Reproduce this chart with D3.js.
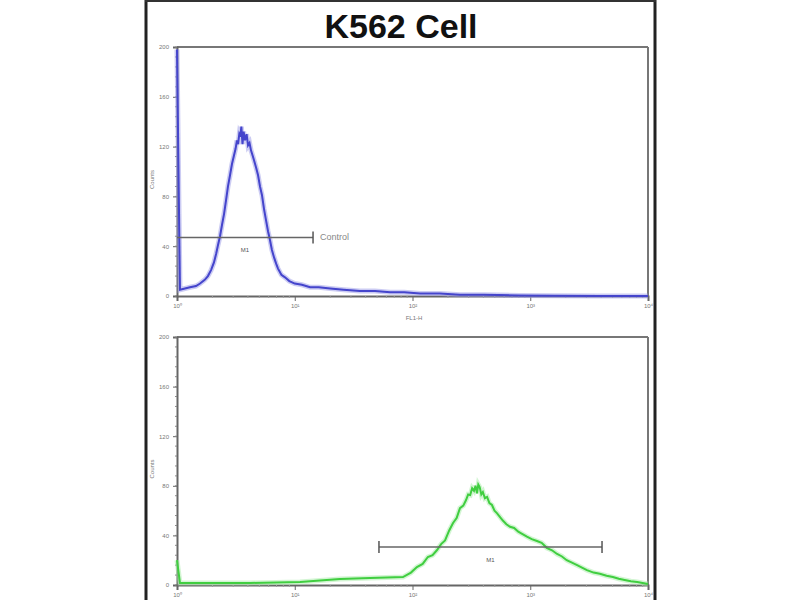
<!DOCTYPE html>
<html>
<head>
<meta charset="utf-8">
<script src="https://cdn.jsdelivr.net/npm/d3@7"></script>
<style>
  body { margin: 0; background: #fff; }
  text { font-family: "Liberation Sans", Arial, sans-serif; }
</style>
</head>
<body>
<div id="chart"></div>
<script>
var width = 800;
var height = 600;

// top histogram (control), blue
var blueX = [1, 1.06, 1.29, 1.45, 1.57, 1.72, 1.83, 1.95, 2.06, 2.15, 2.23, 2.32, 2.41, 2.51, 2.61, 2.71, 2.82, 2.93, 3.05, 3.14, 3.23, 3.3, 3.38, 3.45, 3.52, 3.6, 3.68, 3.78, 3.9, 4.01, 4.13, 4.25, 4.38, 4.51, 4.7, 4.88, 5.07, 5.27, 5.48, 5.7, 5.93, 6.16, 6.4, 6.67, 6.95, 7.21, 7.7, 8.26, 9, 10, 11.5, 13.5, 16, 20, 26, 35.8, 48, 64.5, 85, 116, 170, 253, 400, 815, 1600, 3900, 10000];
var blueY = [198, 5, 7, 8, 10, 13, 16, 21, 27, 34, 41, 48, 57, 66, 77, 88, 97, 106, 113, 118, 125, 122, 130, 128, 136, 122, 132, 125, 130, 121, 123, 117, 113, 109, 103, 97, 88, 81, 70, 61, 52, 45, 37, 31, 26, 22, 17, 15, 12, 10, 9, 7, 7, 6, 5, 4, 4, 3, 3, 2, 2, 1, 1, 0.5, 0.3, 0, 0];

// bottom histogram (antibody), green
var greenX = [1, 1.06, 4.17, 11.1, 24.2, 43.6, 83, 97, 109, 122, 135, 148, 161, 175, 189, 205, 221, 237, 253, 270, 285, 297, 309, 321, 333, 343, 353, 362, 372, 384, 396, 412, 430, 450, 473, 497, 521, 552, 585, 627, 674, 730, 791, 860, 937, 1030, 1140, 1250, 1380, 1530, 1690, 1860, 2040, 2260, 2500, 2750, 3030, 3450, 3900, 4450, 5030, 5650, 6330, 7150, 8090, 10000];
var greenY = [20, 1.6, 1.6, 2.4, 4.8, 5.6, 6.4, 10, 14.5, 17, 22.6, 24, 28, 33, 36, 44, 50, 54, 62, 64, 68.5, 73, 72.5, 78, 76, 80, 74, 81, 79, 73, 75, 70, 71, 66, 64.5, 60, 58, 55, 52, 49, 47, 46, 43, 41, 39, 37, 35.5, 34, 30, 28, 25, 23, 20, 18, 16, 14, 12, 10, 9, 7.5, 6.4, 5, 4, 3, 2.4, 0.8];

var yTicks = [0, 40, 80, 120, 160, 200];
var xTicks = [1, 10, 100, 1000, 10000];
var xTickLabels = ["10\u2070", "10\u00b9", "10\u00b2", "10\u00b3", "10\u2074"];

var topMarker = [1, 14.3, 47];     // from, to, level
var bottomMarker = [51.9, 4070, 30.6];

var svg = d3.select("#chart").append("svg")
  .attr("width", width)
  .attr("height", height);

svg.append("defs").append("filter").attr("id", "soft")
  .append("feGaussianBlur").attr("stdDeviation", 0.6);

// outer frame
svg.append("line").attr("x1", 146).attr("x2", 146).attr("y1", 0).attr("y2", 600)
  .attr("stroke", "#222").attr("stroke-width", 3);
svg.append("line").attr("x1", 655).attr("x2", 655).attr("y1", 0).attr("y2", 600)
  .attr("stroke", "#222").attr("stroke-width", 3);
svg.append("line").attr("x1", 145).attr("x2", 656).attr("y1", 1).attr("y2", 1)
  .attr("stroke", "#333").attr("stroke-width", 2);

svg.append("text")
  .attr("x", 401).attr("y", 38)
  .attr("text-anchor", "middle")
  .attr("font-size", 34).attr("font-weight", "bold")
  .attr("fill", "#111")
  .text("K562 Cell");

function drawPanel(top, bottom, xs, ys, color, halo, marker, markerLabel, showLeftTick) {
  var x = d3.scaleLog().domain([1, 10000]).range([177, 648]);
  var y = d3.scaleLinear().domain([0, 200]).range([bottom, top]);

  var g = svg.append("g");

  // frame of the plot
  g.append("line").attr("x1", 177).attr("x2", 648).attr("y1", top).attr("y2", top)
    .attr("stroke", "#777").attr("stroke-width", 2);
  g.append("line").attr("x1", 648).attr("x2", 648).attr("y1", top).attr("y2", bottom)
    .attr("stroke", "#777").attr("stroke-width", 2);

  // y axis
  var yAxis = d3.axisLeft(y).tickValues(yTicks).tickSize(4).tickFormat(d3.format("d"));
  var ya = g.append("g").attr("transform", "translate(177,0)").call(yAxis);
  ya.select(".domain").attr("stroke", "#666").attr("stroke-width", 2);
  ya.selectAll(".tick line").attr("stroke", "#666");
  ya.selectAll(".tick text").attr("font-size", 6).attr("fill", "#777").attr("x", -8);
  // minor y ticks
  g.append("g").selectAll("line").data(d3.range(0, 201, 8)).enter().append("line")
    .attr("x1", 175).attr("x2", 177)
    .attr("y1", function(d) { return y(d); }).attr("y2", function(d) { return y(d); })
    .attr("stroke", "#888");

  // x axis
  var xAxis = d3.axisBottom(x).tickValues(xTicks).tickSize(5)
    .tickFormat(function(d, i) { return xTickLabels[i]; });
  var xa = g.append("g").attr("transform", "translate(0," + bottom + ")").call(xAxis);
  xa.select(".domain").attr("stroke", "#666").attr("stroke-width", 2);
  xa.selectAll(".tick line").attr("stroke", "#666");
  xa.selectAll(".tick text").attr("font-size", 6).attr("fill", "#777");
  var minor = [];
  for (var dec = 1; dec < 10000; dec *= 10) {
    for (var k = 2; k < 10; k++) minor.push(dec * k);
  }
  g.append("g").selectAll("line").data(minor).enter().append("line")
    .attr("x1", function(d) { return x(d); }).attr("x2", function(d) { return x(d); })
    .attr("y1", bottom).attr("y2", bottom + 2)
    .attr("stroke", "#999");

  g.append("text")
    .attr("transform", "translate(154," + (y(100) + 8) + ") rotate(-90)")
    .attr("text-anchor", "middle").attr("font-size", 6).attr("fill", "#777")
    .text("Counts");

  // histogram line
  var pts = xs.map(function(v, i) { return [v, ys[i]]; });
  var line = d3.line()
    .x(function(d) { return x(d[0]); })
    .y(function(d) { return y(Math.min(d[1], 200)); })
    .curve(d3.curveLinear);
  g.append("path").datum(pts)
    .attr("d", line)
    .attr("fill", "none")
    .attr("stroke", halo)
    .attr("stroke-width", 5)
    .attr("stroke-opacity", 0.5)
    .attr("filter", "url(#soft)");
  g.append("path").datum(pts)
    .attr("d", line)
    .attr("fill", "none")
    .attr("stroke", color)
    .attr("stroke-width", 2)
    .attr("filter", "url(#soft)");

  // marker
  var my = y(marker[2]);
  g.append("line").attr("x1", x(marker[0])).attr("x2", x(marker[1]))
    .attr("y1", my).attr("y2", my)
    .attr("stroke", "#666").attr("stroke-width", 1.5);
  g.append("line").attr("x1", x(marker[1])).attr("x2", x(marker[1]))
    .attr("y1", my - 6).attr("y2", my + 6)
    .attr("stroke", "#555").attr("stroke-width", 1.5);
  if (showLeftTick) {
    g.append("line").attr("x1", x(marker[0])).attr("x2", x(marker[0]))
      .attr("y1", my - 6).attr("y2", my + 6)
      .attr("stroke", "#555").attr("stroke-width", 1.5);
  }
  var mid = Math.sqrt(marker[0] * marker[1]);
  g.append("text")
    .attr("x", x(mid)).attr("y", my + 15)
    .attr("text-anchor", "middle").attr("font-size", 6).attr("fill", "#555")
    .text(markerLabel);
  return { x: x, y: y, g: g };
}

var p1 = drawPanel(47, 296, blueX, blueY, "#4444cc", "#9a9ae8", topMarker, "M1", false);
p1.g.append("text")
  .attr("x", p1.x(topMarker[1]) + 7).attr("y", p1.y(topMarker[2]) + 3)
  .attr("font-size", 9).attr("fill", "#888")
  .text("Control");
p1.g.append("text")
  .attr("x", 414).attr("y", 320)
  .attr("text-anchor", "middle").attr("font-size", 6).attr("fill", "#777")
  .text("FL1-H");

var p2 = drawPanel(337, 585, greenX, greenY, "#3fce3f", "#a8eca8", bottomMarker, "M1", true);
</script>
</body>
</html>
